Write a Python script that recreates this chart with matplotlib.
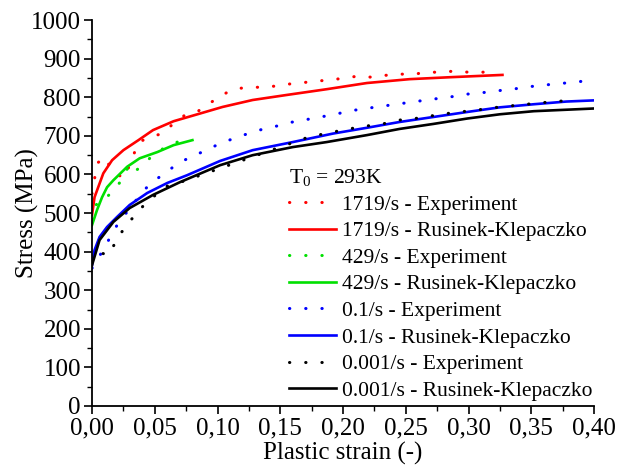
import matplotlib
matplotlib.use("Agg")
import matplotlib.pyplot as plt
from matplotlib.ticker import MultipleLocator, FuncFormatter

plt.rcParams['font.family'] = ['Liberation Serif', 'DejaVu Serif']
plt.rcParams['mathtext.fontset'] = 'custom'
plt.rcParams['mathtext.rm'] = 'Liberation Serif'
plt.rcParams['mathtext.it'] = 'Liberation Serif:italic'

# 1719/s experiment
r_exp_x = [0.0, 0.0024, 0.0045, 0.010, 0.016, 0.025, 0.030, 0.037, 0.0485, 0.057, 0.065, 0.075, 0.0845,
           0.094, 0.1036, 0.113, 0.124, 0.135, 0.146, 0.156, 0.168, 0.179, 0.19, 0.2016, 0.212, 0.223,
           0.234, 0.245, 0.2566, 0.267, 0.278, 0.289, 0.30, 0.311, 0.323]
r_exp_y = [550, 596, 630, 645, 611, 590, 624, 684, 699, 707, 733, 756, 764,
           785, 806, 821, 826, 826, 829, 834, 838, 842, 845, 850, 855, 852,
           857, 860, 860, 865, 865, 868, 865, 865, 868]
# 1719/s model
r_mod_x = [0.0, 0.002, 0.009, 0.016, 0.025, 0.037, 0.0486, 0.065, 0.084, 0.104, 0.128, 0.155, 0.187,
           0.219, 0.253, 0.285, 0.327]
r_mod_y = [495, 541, 603, 637, 663, 689, 715, 738, 756, 775, 793, 806, 821,
           837, 847, 852, 858]
# 429/s experiment
g_exp_x = [0.0, 0.002, 0.0077, 0.0117, 0.018, 0.025, 0.029, 0.0335, 0.042, 0.050, 0.059, 0.068, 0.0765]
g_exp_y = [482, 516, 539, 541, 562, 591, 622, 606, 629, 655, 671, 684, 697]
# 429/s model
g_mod_x = [0.0, 0.004, 0.008, 0.012, 0.017, 0.028, 0.038, 0.052, 0.065, 0.080]
g_mod_y = [469, 508, 541, 567, 585, 620, 642, 658, 676, 689]
# 0.1/s experiment
b_exp_x = [0.0, 0.0048, 0.0104, 0.0157, 0.021, 0.0415, 0.0494, 0.059, 0.068, 0.0765, 0.0876, 0.098, 0.1076,
           0.118, 0.128, 0.139, 0.151, 0.162, 0.172, 0.182, 0.194, 0.204, 0.216, 0.227, 0.238, 0.249,
           0.26, 0.271, 0.281, 0.292, 0.304, 0.315, 0.326, 0.337, 0.347, 0.3586, 0.37, 0.381, 0.392]
b_exp_y = [357, 383, 412, 446, 474, 560, 583, 606, 627, 642, 658, 674, 687,
           699, 710, 720, 728, 738, 743, 749, 756, 764, 770, 775, 780, 785,
           790, 795, 799, 804, 811, 813, 818, 822, 827, 831, 835, 838, 842]
# 0.1/s model
b_mod_x = [0.0, 0.002, 0.006, 0.012, 0.020, 0.030, 0.044, 0.060, 0.0757, 0.102, 0.128, 0.160, 0.192,
           0.219, 0.245, 0.272, 0.299, 0.325, 0.352, 0.378, 0.40]
b_mod_y = [365, 404, 438, 464, 490, 521, 552, 578, 598, 635, 663, 684, 706,
           721, 736, 749, 762, 774, 782, 789, 792]
# 0.001/s experiment
k_exp_x = [0.0, 0.005, 0.0127, 0.0175, 0.022, 0.028, 0.035, 0.042, 0.050, 0.058, 0.068, 0.170, 0.18,
           0.192, 0.203, 0.2135, 0.224, 0.235, 0.245, 0.256, 0.267, 0.277, 0.288, 0.299, 0.309,
           0.32, 0.331, 0.341, 0.352, 0.362, 0.373, 0.384]
k_exp_y = [375, 399, 391, 417, 443, 471, 497, 523, 545, 568, 577, 694, 702,
           710, 717, 723, 728, 733, 741, 744, 751, 754, 761, 764, 768,
           773, 777, 780, 784, 787, 790, 793]
# 0.001/s model
k_mod_x = [0.0, 0.006, 0.017, 0.030, 0.0486, 0.070, 0.102, 0.128, 0.160, 0.187, 0.219, 0.245, 0.272,
           0.299, 0.325, 0.352, 0.40]
k_mod_y = [365, 430, 477, 513, 547, 580, 624, 650, 671, 684, 702, 718, 731,
           745, 756, 764, 771]

labels = ["1719/s - Experiment", "1719/s - Rusinek-Klepaczko",
          "429/s - Experiment", "429/s - Rusinek-Klepaczko",
          "0.1/s - Experiment", "0.1/s - Rusinek-Klepaczko",
          "0.001/s - Experiment", "0.001/s - Rusinek-Klepaczko"]

fig = plt.figure(figsize=(6.26, 4.68), dpi=100)
ax = fig.add_axes([0.147, 0.1325, 0.802, 0.8245])

dot = dict(linestyle=(0, (0.1, 5.2)), linewidth=2.2, dash_capstyle='round')
sol = dict(linestyle='-', linewidth=1.9)

series = [(r_exp_x, r_exp_y, '#ff0000', dot), (r_mod_x, r_mod_y, '#ff0000', sol),
          (g_exp_x, g_exp_y, '#00e000', dot), (g_mod_x, g_mod_y, '#00e000', sol),
          (b_exp_x, b_exp_y, '#0000ff', dot), (b_mod_x, b_mod_y, '#0000ff', sol),
          (k_exp_x, k_exp_y, '#000000', dot), (k_mod_x, k_mod_y, '#000000', sol)]
for (xs, ys, c, st), lab in zip(series, labels):
    ax.plot(xs, ys, color=c, label=lab, **st)

ax.set_xlim(0, 0.40)
ax.set_ylim(0, 1000)
ax.xaxis.set_major_locator(MultipleLocator(0.05))
ax.xaxis.set_minor_locator(MultipleLocator(0.025))
ax.yaxis.set_major_locator(MultipleLocator(100))
ax.yaxis.set_minor_locator(MultipleLocator(50))
ax.xaxis.set_major_formatter(FuncFormatter(lambda v, p: f"{v:.2f}".replace('.', ',')))
ax.yaxis.set_major_formatter(FuncFormatter(lambda v, p: f"{int(round(v))}"))
for s in ['top', 'right']:
    ax.spines[s].set_visible(False)
for s in ['left', 'bottom']:
    ax.spines[s].set_linewidth(1.3)
ax.tick_params(which='major', direction='out', length=6, width=1.2, labelsize=18, pad=2)
ax.tick_params(which='minor', direction='out', length=3.5, width=1.0)

ax.set_xlabel("Plastic strain (-)", fontsize=18, labelpad=2)
ax.set_ylabel("Stress (MPa)", fontsize=18)
ax.yaxis.set_label_coords(-0.105, 0.5)

leg = ax.legend(loc='lower left', bbox_to_anchor=(0.362, -0.025), frameon=False,
                fontsize=15.5, handlelength=2.2, handletextpad=0.25, labelspacing=0.3,
                title="T$_0$ = 293K", title_fontsize=15.5, borderpad=0.2)
leg._legend_box.align = "left"

fig.savefig("out.png", dpi=100)
